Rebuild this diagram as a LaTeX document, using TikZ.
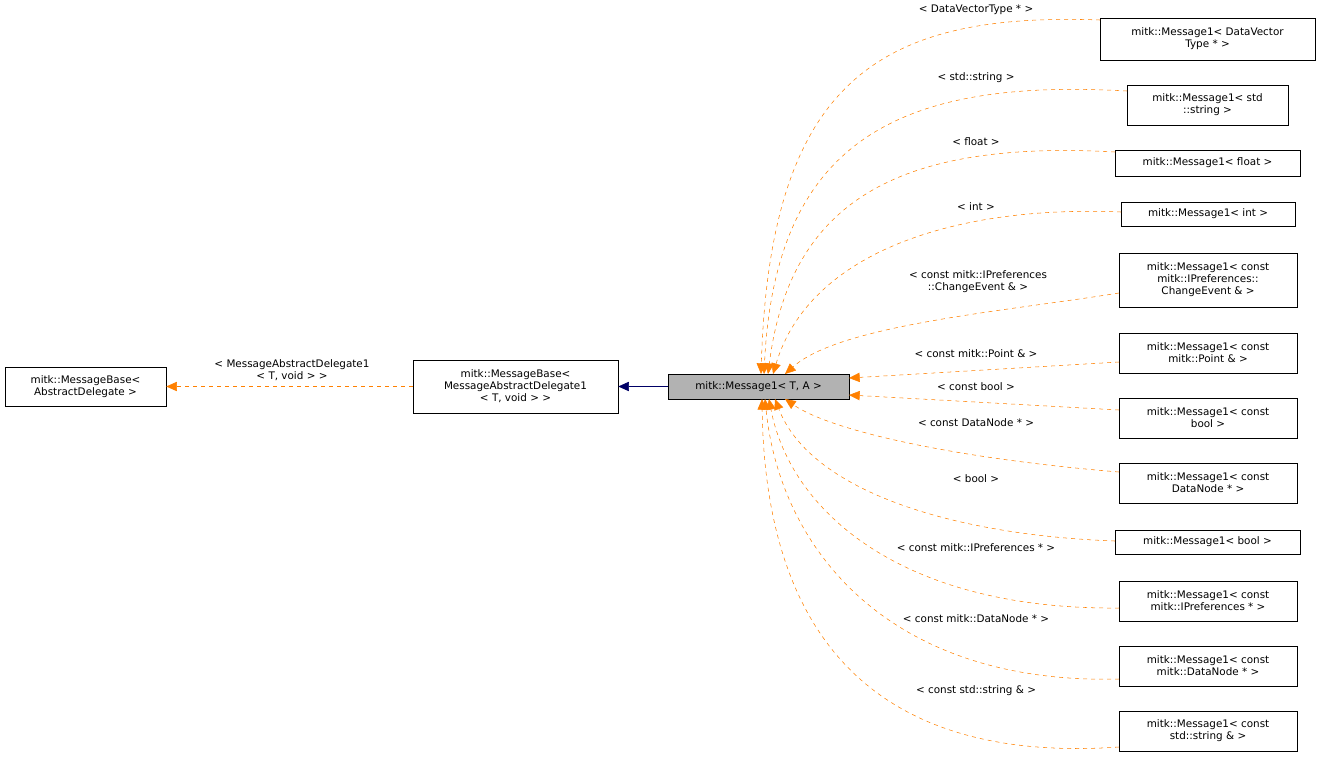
\documentclass[tikz,border=0pt]{standalone}
\usepackage{fontspec}
\setmainfont{DejaVu Sans}
\usetikzlibrary{arrows.meta}
\begin{document}
\begin{tikzpicture}[x=0.75pt,y=-0.75pt,
  box/.style={draw,rectangle,inner sep=0pt,align=center,font=\fontsize{7.8pt}{9pt}\selectfont},
  lbl/.style={align=center,font=\fontsize{7.8pt}{9pt}\selectfont},
  dep/.style={draw=orange,dashed,-{Triangle[length=8pt,width=7pt]},fill=none},
  inh/.style={draw=blue!40!black,-{Triangle[length=8pt,width=7pt]}}]
\useasboundingbox (0,0) rectangle (1320,758);
\node[box,minimum width=161*0.75pt,minimum height=39*0.75pt] (b1) at (85.5,386.5) {mitk::MessageBase\textless\\AbstractDelegate \textgreater};
\node[box,minimum width=205*0.75pt,minimum height=53*0.75pt] (b2) at (515.5,386.5) {mitk::MessageBase\textless\\ MessageAbstractDelegate1\\\textless{} T, void \textgreater{} \textgreater};
\node[box,fill=black!30,minimum width=181*0.75pt,minimum height=25*0.75pt] (m) at (758.5,386.5) {mitk::Message1\textless{} T, A \textgreater};
\node[box,minimum width=215*0.75pt,minimum height=42*0.75pt] (n1) at (1207.5,39) {mitk::Message1\textless{} DataVector\\Type * \textgreater};
\node[box,minimum width=161*0.75pt,minimum height=40*0.75pt] (n2) at (1207.5,105) {mitk::Message1\textless{} std\\::string \textgreater};
\node[box,minimum width=185*0.75pt,minimum height=26*0.75pt] (n3) at (1207.5,163) {mitk::Message1\textless{} float \textgreater};
\node[box,minimum width=174*0.75pt,minimum height=24*0.75pt] (n4) at (1208,214) {mitk::Message1\textless{} int \textgreater};
\node[box,minimum width=178*0.75pt,minimum height=54*0.75pt] (n5) at (1208,280) {mitk::Message1\textless{} const\\mitk::IPreferences::\\ChangeEvent \& \textgreater};
\node[box,minimum width=178*0.75pt,minimum height=40*0.75pt] (n6) at (1208,353) {mitk::Message1\textless{} const\\mitk::Point \& \textgreater};
\node[box,minimum width=178*0.75pt,minimum height=40*0.75pt] (n7) at (1208,418) {mitk::Message1\textless{} const\\bool \textgreater};
\node[box,minimum width=178*0.75pt,minimum height=40*0.75pt] (n8) at (1208,483) {mitk::Message1\textless{} const\\DataNode * \textgreater};
\node[box,minimum width=185*0.75pt,minimum height=24*0.75pt] (n9) at (1207.5,542) {mitk::Message1\textless{} bool \textgreater};
\node[box,minimum width=178*0.75pt,minimum height=40*0.75pt] (n10) at (1208,601) {mitk::Message1\textless{} const\\mitk::IPreferences * \textgreater};
\node[box,minimum width=178*0.75pt,minimum height=40*0.75pt] (n11) at (1208,666) {mitk::Message1\textless{} const\\mitk::DataNode * \textgreater};
\node[box,minimum width=178*0.75pt,minimum height=40*0.75pt] (n12) at (1208,731) {mitk::Message1\textless{} const\\std::string \& \textgreater};
\coordinate (t1) at (761,374); \coordinate (t2) at (764,374); \coordinate (t3) at (768,374);
\coordinate (t4) at (773,374); \coordinate (t5) at (785,374);
\coordinate (r6) at (849,378); \coordinate (r7) at (849,395);
\coordinate (u8) at (785,399); \coordinate (u9) at (775,399); \coordinate (u10) at (769,399);
\coordinate (u11) at (765,399); \coordinate (u12) at (762,399);
\coordinate (s1) at (1100,20); \coordinate (s2) at (1127,91); \coordinate (s3) at (1115,152);
\coordinate (s4) at (1121,212); \coordinate (s5) at (1119,293); \coordinate (s6) at (1119,362);
\coordinate (s7) at (1119,410); \coordinate (s8) at (1119,472); \coordinate (s9) at (1115,541);
\coordinate (s10) at (1119,608); \coordinate (s11) at (1119,679); \coordinate (s12) at (1119,747);
\draw[dep] (s1) .. controls (880,12) and (770,80) .. (t1);
\draw[dep] (s2) .. controls (900,78) and (775,140) .. (t2);
\draw[dep] (s3) .. controls (900,140) and (790,200) .. (t3);
\draw[dep] (s4) .. controls (960,205) and (810,250) .. (t4);
\draw[dep] (s5) .. controls (1000,312) and (840,325) .. (t5);
\draw[dep] (s6) -- (r6);
\draw[dep] (s7) -- (r7);
\draw[dep] (s8) .. controls (950,458) and (830,430) .. (u8);
\draw[dep] (s9) .. controls (950,535) and (810,490) .. (u9);
\draw[dep] (s10) .. controls (900,610) and (790,510) .. (u10);
\draw[dep] (s11) .. controls (890,685) and (780,550) .. (u11);
\draw[dep] (s12) .. controls (860,765) and (765,620) .. (u12);
\node[lbl] (l1) at (976,10) {\textless{} DataVectorType * \textgreater};
\node[lbl] (l2) at (976,78) {\textless{} std::string \textgreater};
\node[lbl] (l3) at (976,142) {\textless{} float \textgreater};
\node[lbl] (l4) at (976,207) {\textless{} int \textgreater};
\node[lbl] (l5) at (978,282) {\textless{} const mitk::IPreferences\\::ChangeEvent \& \textgreater};
\node[lbl] (l6) at (976,354) {\textless{} const mitk::Point \& \textgreater};
\node[lbl] (l7) at (976,387) {\textless{} const bool \textgreater};
\node[lbl] (l8) at (976,423) {\textless{} const DataNode * \textgreater};
\node[lbl] (l9) at (976,479) {\textless{} bool \textgreater};
\node[lbl] (l10) at (976,548) {\textless{} const mitk::IPreferences * \textgreater};
\node[lbl] (l11) at (976,619) {\textless{} const mitk::DataNode * \textgreater};
\node[lbl] (l12) at (976,691) {\textless{} const std::string \& \textgreater};
\draw[inh] (m.west) -- (b2.east);
\draw[dep] (b2.west) -- (b1.east);
\node[lbl] (lb) at (292,370) {\textless{} MessageAbstractDelegate1\\\textless{} T, void \textgreater{} \textgreater};
\end{tikzpicture}
\end{document}
